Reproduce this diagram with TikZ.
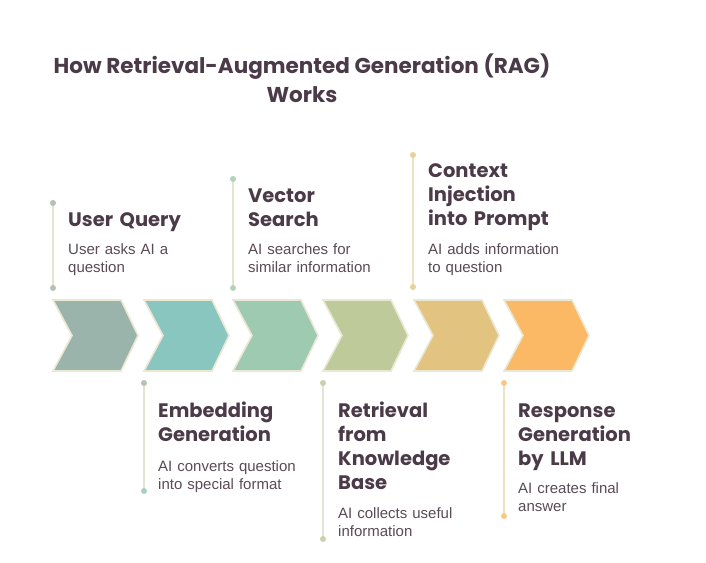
\documentclass[tikz,border=0pt]{standalone}
\usepackage{fontspec}
\setmainfont{Liberation Sans}
\newfontfamily\headfont{Poppins}
\definecolor{ink}{HTML}{4B3A48}
\definecolor{desc}{HTML}{5A4B56}
\definecolor{cA}{HTML}{9AB4AB}
\definecolor{cB}{HTML}{88C6BF}
\definecolor{cC}{HTML}{9DCAB0}
\definecolor{cD}{HTML}{BFCA9B}
\definecolor{cE}{HTML}{E2C37F}
\definecolor{cF}{HTML}{FBB966}
\definecolor{edge}{HTML}{EAE8D3}
\definecolor{stemg}{HTML}{E2E5CF}
\definecolor{stemy}{HTML}{EDE3C0}
\definecolor{dotA}{HTML}{B3C2B5}
\definecolor{dotB}{HTML}{A9D0C5}
\definecolor{dotC}{HTML}{B5D1BF}
\definecolor{dotD}{HTML}{C9D1AE}
\definecolor{dotE}{HTML}{E6D29E}
\definecolor{dotF}{HTML}{F8C885}
\tikzset{
  chev/.style={draw=edge, line width=1.6pt, line join=miter},
  stem/.style={line width=1.6pt},
  head/.style={anchor=base west, inner sep=0pt, text width=160pt, align=left,
    text=ink, font=\headfont\bfseries\fontsize{19.5}{24}\selectfont},
  body/.style={anchor=base west, inner sep=0pt, text width=160pt, align=left,
    text=desc, font=\fontsize{15}{18}\selectfont},
  ttl/.style={inner sep=0pt, text=ink, align=center,
    font=\headfont\bfseries\fontsize{21.5}{29}\selectfont}
}
\begin{document}
\begin{tikzpicture}[x=1pt,y=-1pt]
\useasboundingbox (0,0) rectangle (706,562);
\fill[white] (0,0) rectangle (706,562);

% title
\node[ttl, anchor=base] (title) at (302,102) {How Retrieval-Augmented Generation (RAG)\\Works};

% chevrons
\foreach \x/\c [count=\i] in {53/cA,144/cB,233/cC,323/cD,414/cE,504/cF}{
  \draw[chev, fill=\c] (\x,300) -- ++(68,0) -- ++(17,35.5) -- ++(-17,35.5)
    -- ++(-68,0) -- ++(19,-35.5) -- cycle;
}

% stems (top)
\coordinate (s1a) at (53,203); \coordinate (s1b) at (53,288);
\coordinate (s3a) at (233,179); \coordinate (s3b) at (233,288);
\coordinate (s5a) at (413,155); \coordinate (s5b) at (413,287);
% stems (bottom)
\coordinate (s2a) at (144,383); \coordinate (s2b) at (144,491);
\coordinate (s4a) at (323,383); \coordinate (s4b) at (323,539);
\coordinate (s6a) at (504,383); \coordinate (s6b) at (504,516);

\draw[stem, stemg] (s1a) -- (s1b);
\draw[stem, stemg] (s3a) -- (s3b);
\draw[stem, stemy] (s5a) -- (s5b);
\draw[stem, stemg] (s2a) -- (s2b);
\draw[stem, stemg] (s4a) -- (s4b);
\draw[stem, stemy] (s6a) -- (s6b);
\foreach \p/\c in {s1a/dotA,s1b/dotA,s3a/dotC,s3b/dotC,s5a/dotE,s5b/dotE,
                   s2a/dotA,s2b/dotB,s4a/dotD,s4b/dotD,s6a/dotF,s6b/dotF}{
  \fill[\c] (\p) circle (3pt);
}

% texts top
\node[head] (h1) at (68,226) {User Query};
\node[body] (b1) at (68,254) {User asks AI a\\question};
\node[head] (h3) at (248,202) {Vector\\Search};
\node[body] (b3) at (248,254) {AI searches for\\similar information};
\node[head] (h5) at (428,177) {Context\\Injection\\into Prompt};
\node[body] (b5) at (428,254) {AI adds information\\to question};

% texts bottom
\node[head] (h2) at (158,417) {Embedding\\Generation};
\node[body] (b2) at (158,471) {AI converts question\\into special format};
\node[head] (h4) at (338,417) {Retrieval\\from\\Knowledge\\Base};
\node[body] (b4) at (338,518) {AI collects useful\\information};
\node[head] (h6) at (518,417) {Response\\Generation\\by LLM};
\node[body] (b6) at (518,493) {AI creates final\\answer};
\end{tikzpicture}
\end{document}
